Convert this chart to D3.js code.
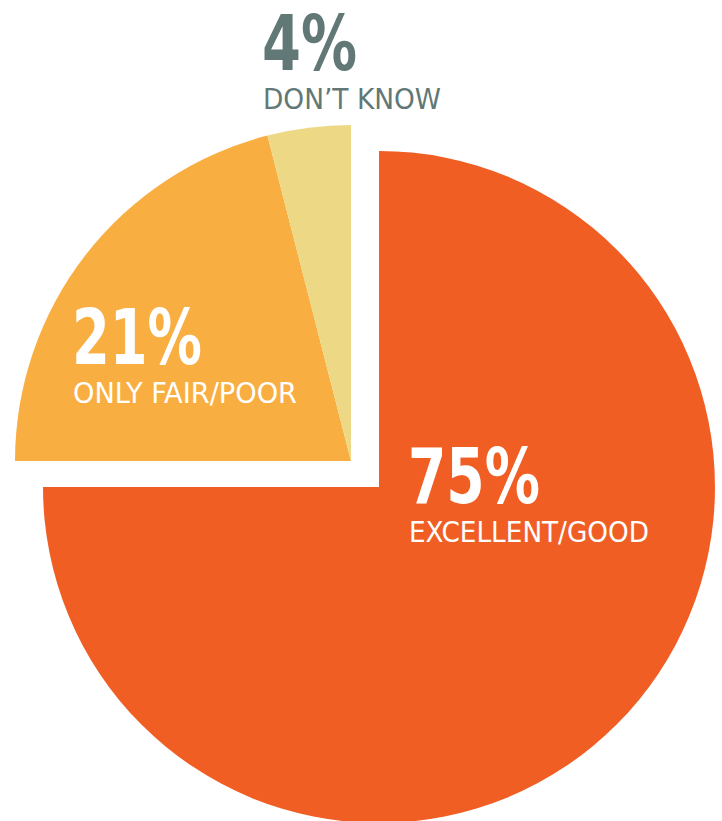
<!DOCTYPE html>
<html>
<head>
<meta charset="utf-8">
<script src="https://cdn.jsdelivr.net/npm/d3@7"></script>
<style>
  html, body { margin: 0; padding: 0; background: #fff; }
  svg { display: block; }
  text { font-family: "Liberation Sans Narrow", "DejaVu Sans Condensed", sans-serif; }
</style>
</head>
<body>
<svg id="svg" width="722" height="821"></svg>
<script>
const categories = ['EXCELLENT/GOOD', 'ONLY FAIR/POOR', 'DON\u2019T KNOW'];
const values = [75, 21, 4];
const pctLabels = ['75%', '21%', '4%'];
const colors = ['#f15e24', '#f9ae42', '#edd985'];

const data = categories.map((c, i) => ({ cat: c, value: values[i], pct: pctLabels[i], color: colors[i] }));

const svg = d3.select('#svg');
const radius = 336;
const cx = 351, cy = 461;
// the big slice is pulled out down-right
const pull = [28, 26];

const pie = d3.pie().sort(null).value(d => d.value);
const arc = d3.arc().innerRadius(0).outerRadius(radius);

const g = svg.append('g').attr('transform', `translate(${cx},${cy})`);

g.selectAll('path')
  .data(pie(data))
  .enter()
  .append('path')
  .attr('d', arc)
  .attr('fill', d => d.data.color)
  .attr('transform', (d, i) => i === 0 ? `translate(${pull[0]},${pull[1]})` : null);

// labels: big percent + category name, one text block each
const labelPos = [
  { x: 408, y: 503, w1: 132, w2: 240, fill: '#fff' },
  { x: 72, y: 364, w1: 130, w2: 224, fill: '#fff' },
  { x: 262, y: 70, w1: 95, w2: 178, fill: '#627876' }
];

const labels = svg.selectAll('text.label')
  .data(data)
  .enter()
  .append('text')
  .attr('class', 'label')
  .attr('fill', (d, i) => labelPos[i].fill);

labels.append('tspan')
  .attr('x', (d, i) => labelPos[i].x)
  .attr('y', (d, i) => labelPos[i].y)
  .attr('font-size', 77)
  .attr('font-weight', 'bold')
  .attr('textLength', (d, i) => labelPos[i].w1)
  .attr('lengthAdjust', 'spacingAndGlyphs')
  .text(d => d.pct);

labels.append('tspan')
  .attr('x', (d, i) => labelPos[i].x + 1)
  .attr('y', (d, i) => labelPos[i].y + 39)
  .attr('font-size', 29)
  .attr('textLength', (d, i) => labelPos[i].w2)
  .attr('lengthAdjust', 'spacingAndGlyphs')
  .text(d => d.cat);
</script>
</body>
</html>
